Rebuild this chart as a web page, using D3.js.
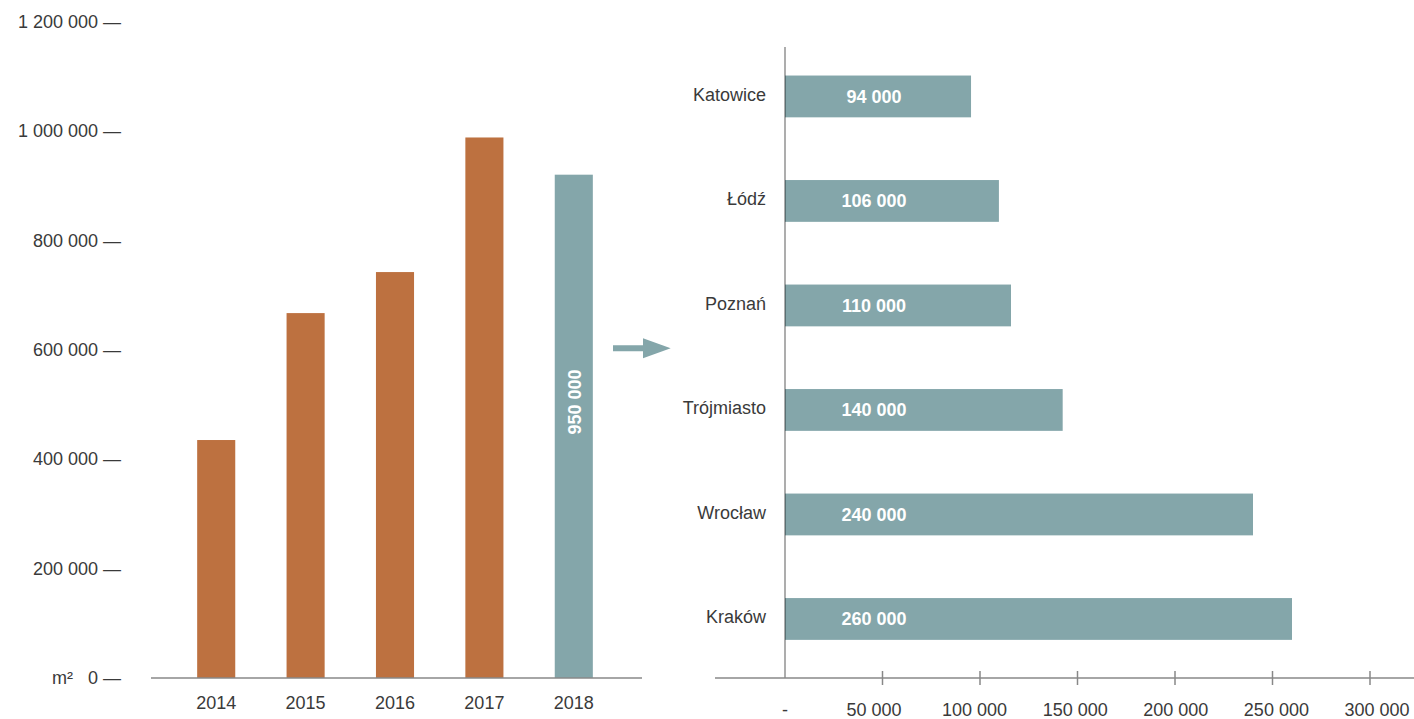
<!DOCTYPE html>
<html>
<head>
<meta charset="utf-8">
<script src="https://cdn.jsdelivr.net/npm/d3@7"></script>
<style>
  body { margin: 0; background: #fff; }
  text { font-family: "Helvetica Neue", Arial, "Liberation Sans", sans-serif; }
</style>
</head>
<body>
<div id="chart"></div>
<script>
// data: yearly take-up (left) and 2018 split by city (right)
const years = ["2014", "2015", "2016", "2017", "2018"];
const yearValues = [435000, 667000, 742000, 988000, 920000];
const yearLabels = ["", "", "", "", "950 000"];
const yTicks = [0, 200000, 400000, 600000, 800000, 1000000, 1200000];

const cities = ["Katowice", "Łódź", "Poznań", "Trójmiasto", "Wrocław", "Kraków"];
const cityValues = [95400, 109700, 115900, 142400, 240000, 260000];
const cityLabels = ["94 000", "106 000", "110 000", "140 000", "240 000", "260 000"];
const xTicks = [0, 50000, 100000, 150000, 200000, 250000, 300000];

const orange = "#bd7140", teal = "#84a6aa", textCol = "#3a3a3a";
const W = 1414, H = 719;

const loc = d3.formatLocale({ decimal: ",", thousands: " ", grouping: [3], currency: ["", ""] });
const fmt = loc.format(",");

const svg = d3.select("#chart").append("svg")
  .attr("width", W)
  .attr("height", H);

// ---- left chart ----
const x0 = d3.scaleBand().domain(years).range([148, 642]).paddingInner(0.574).paddingOuter(0.55);
const y0 = d3.scaleLinear().domain([0, 1200000]).range([678, 21.5]);

svg.append("g").selectAll("rect")
  .data(years)
  .join("rect")
  .attr("x", d => x0(d))
  .attr("width", x0.bandwidth())
  .attr("y", (d, i) => y0(yearValues[i]))
  .attr("height", (d, i) => y0(0) - y0(yearValues[i]))
  .attr("fill", (d, i) => i === years.length - 1 ? teal : orange);

// rotated value inside the last bar
svg.append("g").selectAll("text")
  .data(years)
  .join("text")
  .attr("transform", (d, i) => `translate(${x0(d) + x0.bandwidth() / 2 + 7},402) rotate(-90)`)
  .attr("text-anchor", "middle")
  .style("font-size", "18px")
  .style("font-weight", "bold")
  .style("fill", "#fff")
  .text((d, i) => yearLabels[i]);

// baseline
svg.append("line")
  .attr("x1", 151).attr("x2", 642)
  .attr("y1", y0(0)).attr("y2", y0(0))
  .attr("stroke", "#888").attr("stroke-width", 1.5);

// y tick labels with dash
svg.append("g").selectAll("text")
  .data(yTicks)
  .join("text")
  .attr("x", 121)
  .attr("y", d => y0(d))
  .attr("dy", "0.35em")
  .attr("text-anchor", "end")
  .style("font-size", "18px")
  .style("fill", textCol)
  .text(d => fmt(d) + " \u2014");

svg.append("text")
  .attr("x", 52).attr("y", y0(0)).attr("dy", "0.35em")
  .style("font-size", "18px").style("fill", textCol)
  .text("m²");

// year labels
svg.append("g").selectAll("text")
  .data(years)
  .join("text")
  .attr("x", d => x0(d) + x0.bandwidth() / 2)
  .attr("y", 703)
  .attr("dy", "0.35em")
  .attr("text-anchor", "middle")
  .style("font-size", "18px")
  .style("fill", textCol)
  .text(d => d);

// arrow between the charts
svg.append("path")
  .attr("d", "M613,345.3 L643,345.3 L643,338.3 L670.7,348.3 L643,358.3 L643,351.3 L613,351.3 Z")
  .attr("fill", teal);

// ---- right chart ----
const x1 = d3.scaleLinear().domain([0, 300000]).range([785, 1370]);
// tick labels sit on a slightly wider spacing than the tick marks
const xLab = d3.scaleLinear().domain([50000, 300000]).range([874, 1377]);
const y1 = d3.scaleBand().domain(cities).range([40, 675.4]).paddingInner(0.6).paddingOuter(0.34);

svg.append("g").selectAll("rect")
  .data(cities)
  .join("rect")
  .attr("x", x1(0))
  .attr("y", d => y1(d))
  .attr("width", (d, i) => x1(cityValues[i]) - x1(0))
  .attr("height", y1.bandwidth())
  .attr("fill", teal);

svg.append("g").selectAll("text")
  .data(cities)
  .join("text")
  .attr("x", x1(0) + 89)
  .attr("y", d => y1(d) + y1.bandwidth() / 2)
  .attr("dy", "0.35em")
  .attr("text-anchor", "middle")
  .style("font-size", "18px")
  .style("font-weight", "bold")
  .style("fill", "#fff")
  .text((d, i) => cityLabels[i]);

// city names
svg.append("g").selectAll("text")
  .data(cities)
  .join("text")
  .attr("x", 766)
  .attr("y", d => y1(d) + y1.bandwidth() / 2 - 2)
  .attr("dy", "0.35em")
  .attr("text-anchor", "end")
  .style("font-size", "18px")
  .style("fill", textCol)
  .text(d => d);

// axes lines
svg.append("line")
  .attr("x1", x1(0)).attr("x2", x1(0))
  .attr("y1", 47).attr("y2", 678)
  .attr("stroke", "rgba(0,0,0,0.32)").attr("stroke-width", 2);

svg.append("line")
  .attr("x1", 715).attr("x2", W)
  .attr("y1", 678).attr("y2", 678)
  .attr("stroke", "#888").attr("stroke-width", 1.5);

svg.append("g").selectAll("line")
  .data(xTicks.slice(1))
  .join("line")
  .attr("x1", d => x1(d)).attr("x2", d => x1(d))
  .attr("y1", 671).attr("y2", 685)
  .attr("stroke", "#888").attr("stroke-width", 1.5);

svg.append("g").selectAll("text")
  .data(xTicks)
  .join("text")
  .attr("x", d => d === 0 ? x1(0) : xLab(d))
  .attr("y", 710)
  .attr("dy", "0.35em")
  .attr("text-anchor", "middle")
  .style("font-size", "18px")
  .style("fill", textCol)
  .text(d => d === 0 ? "-" : fmt(d));
</script>
</body>
</html>
